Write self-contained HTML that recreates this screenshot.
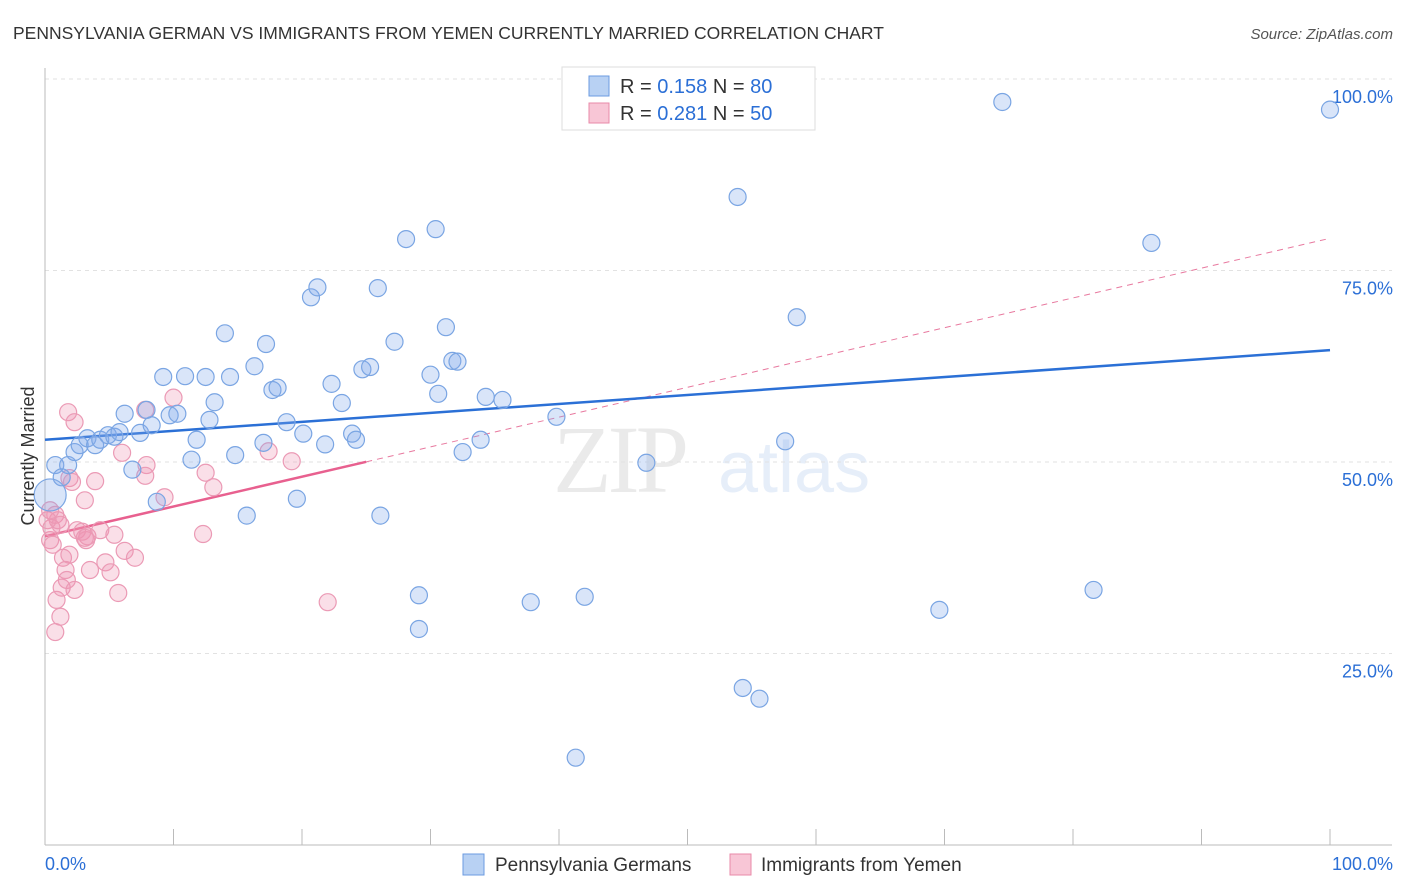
<!DOCTYPE html>
<html><head><meta charset="utf-8">
<style>
body{margin:0;background:#fff;font-family:"Liberation Sans",sans-serif;}
svg{display:block}
</style></head>
<body>
<svg id="chart" width="1406" height="892" xmlns="http://www.w3.org/2000/svg">
<text x="13" y="39" font-size="17.5" fill="#333">PENNSYLVANIA GERMAN VS IMMIGRANTS FROM YEMEN CURRENTLY MARRIED CORRELATION CHART</text>
<text x="1393" y="39" font-size="15" fill="#555" font-style="italic" text-anchor="end">Source: ZipAtlas.com</text>
<g>
<text x="553" y="492" font-size="96" font-family="Liberation Serif,serif" fill="#000" opacity="0.08" letter-spacing="-4">ZIP</text>
<text x="718" y="492" font-size="72" fill="#4a86d8" opacity="0.13">atlas</text>
</g>
<g id="grid"></g>
<g id="axes"></g>
<g id="lines"></g>
<g id="points"></g>
<g>
<rect x="562" y="67" width="253" height="63" fill="#fff" stroke="#ddd"/>
<rect x="589" y="76" width="20" height="20" fill="#b8d1f3" stroke="#6b9be0"/>
<rect x="589" y="103" width="20" height="20" fill="#f8c6d6" stroke="#e88aa8"/>
<text x="620" y="93" font-size="20" fill="#333">R = <tspan fill="#2b6fd6">0.158</tspan>   N = <tspan fill="#2b6fd6">80</tspan></text>
<text x="620" y="120" font-size="20" fill="#333">R = <tspan fill="#2b6fd6">0.281</tspan>   N = <tspan fill="#2b6fd6">50</tspan></text>
</g>
<g>
<rect x="463" y="854" width="21" height="21" fill="#b8d1f3" stroke="#6b9be0"/>
<text x="495" y="871" font-size="19" fill="#333">Pennsylvania Germans</text>
<rect x="730" y="854" width="21" height="21" fill="#f8c6d6" stroke="#e88aa8"/>
<text x="761" y="871" font-size="19" fill="#333">Immigrants from Yemen</text>
</g>
<text transform="translate(34,456) rotate(-90)" font-size="18" fill="#333" text-anchor="middle">Currently Married</text>
</svg>
<script>
const blueX=[0.8,1.8,1.3,2.3,2.7,3.3,3.9,4.3,4.9,5.4,5.8,6.2,6.8,7.4,7.9,8.3,8.7,9.2,9.7,10.3,10.9,11.4,11.8,12.5,12.8,13.2,14.0,14.4,14.8,15.7,16.3,17.0,17.2,17.7,18.1,18.8,19.6,20.1,20.7,21.2,21.8,22.3,23.1,23.9,24.2,24.7,25.3,25.9,26.1,27.2,28.1,29.1,29.1,30.0,30.4,30.6,31.2,31.7,32.1,32.5,33.9,34.3,35.6,37.8,39.8,41.3,42.0,46.8,53.9,54.3,55.6,57.6,58.5,69.6,74.5,81.6,86.1,100.0,0.4];
const blueY=[49.6,49.6,48.0,51.3,52.2,53.1,52.2,52.9,53.5,53.3,53.9,56.3,49.0,53.8,56.8,54.8,44.8,61.1,56.1,56.3,61.2,50.3,52.9,61.1,55.5,57.8,66.8,61.1,50.9,43.0,62.5,52.5,65.4,59.4,59.7,55.2,45.2,53.7,71.5,72.8,52.3,60.2,57.7,53.7,52.9,62.1,62.4,72.7,43.0,65.7,79.1,32.6,28.2,61.4,80.4,58.9,67.6,63.2,63.1,51.3,52.9,58.5,58.1,31.7,55.9,11.4,32.4,49.9,84.6,20.5,19.1,52.7,68.9,30.7,97.0,33.3,78.6,96.0,45.7];
const pinkX=[0.4,0.5,0.8,1.0,0.8,0.9,1.2,1.3,1.4,1.6,1.7,1.8,1.9,1.9,2.1,2.3,2.3,2.5,2.9,3.1,3.2,3.3,3.5,3.9,4.3,4.7,5.1,5.7,6.0,6.2,7.0,7.8,7.9,7.8,9.3,10.0,12.3,12.5,13.1,17.4,19.2,22.0,0.2,0.4,0.6,1.2,3.1,5.4];
const pinkY=[39.8,41.4,43.1,42.4,27.8,32.0,29.8,33.6,37.5,35.9,34.6,56.5,37.9,47.9,47.4,33.3,55.2,41.1,40.9,45.0,39.8,40.3,35.9,47.5,41.1,36.9,35.6,32.9,51.2,38.4,37.5,56.8,49.6,48.2,45.4,58.4,40.6,48.6,46.7,51.4,50.1,31.7,42.4,43.7,39.2,41.8,40.1,40.5];
const blueTrend=[52.9,64.6];
const pinkTrend=[40.3,79.2];
const pinkSolidEnd=25;
const yTicks=[25,50,75,100];
const xTicks=[0,10,20,30,40,50,60,70,80,90,100];
const NS="http://www.w3.org/2000/svg";
const X=v=>45+v*12.85;
const Y=v=>845-v*7.66;
function mk(tag,attrs,parent){const e=document.createElementNS(NS,tag);for(const k in attrs)e.setAttribute(k,attrs[k]);parent.appendChild(e);return e;}
const grid=document.getElementById('grid'),axes=document.getElementById('axes'),lines=document.getElementById('lines'),pts=document.getElementById('points');
yTicks.forEach(t=>{
 const l=mk('line',{x1:45,x2:1392,y1:Y(t),y2:Y(t),stroke:'#e2e2e2','stroke-dasharray':'4,4'},grid);
 
 
 const tx=mk('text',{x:1393,y:Y(t)+24,'font-size':18,fill:'#2b6fd6','text-anchor':'end'},axes);
 tx.textContent=t.toFixed(1)+'%';
 
 
});
const gtop=mk('line',{x1:45,x2:1392,y1:79,y2:79,stroke:'#e2e2e2','stroke-dasharray':'4,4'},grid);


const ya=mk('line',{x1:45,x2:45,y1:68,y2:845,stroke:'#bbb'},axes);


const xa=mk('line',{x1:45,x2:1392,y1:845,y2:845,stroke:'#bbb'},axes);


xTicks.forEach(t=>{
 const l=mk('line',{x1:X(t),x2:X(t),y1:829,y2:845,stroke:'#bbb'},axes);
 
 
});
const xl0=mk('text',{x:45,y:870,'font-size':18,fill:'#2b6fd6'},axes);xl0.textContent='0.0%';


const xl1=mk('text',{x:1393,y:870,'font-size':18,fill:'#2b6fd6','text-anchor':'end'},axes);xl1.textContent='100.0%';


pinkX.forEach((x,i)=>{
 const c=mk('circle',{cx:X(x),cy:Y(pinkY[i]),r:8.5,fill:'rgba(240,150,180,0.3)',stroke:'#eb9ab5','stroke-width':1.2},pts);
 
 
});
blueX.forEach((x,i)=>{
 const big=i===blueX.length-1;
 const c=mk('circle',{cx:X(x),cy:Y(blueY[i]),r:big?16:8.5,fill:'rgba(130,170,235,0.3)',stroke:'#7aa5e3','stroke-width':1.2},pts);
 
 
});
const pAt=v=>pinkTrend[0]+(pinkTrend[1]-pinkTrend[0])*v/100;
const pd=mk('line',{x1:X(pinkSolidEnd),y1:Y(pAt(pinkSolidEnd)),x2:X(100),y2:Y(pinkTrend[1]),stroke:'#e8799f','stroke-width':1,'stroke-dasharray':'6,5'},lines);


const ps=mk('line',{x1:X(0),y1:Y(pinkTrend[0]),x2:X(pinkSolidEnd),y2:Y(pAt(pinkSolidEnd)),stroke:'#e8608f','stroke-width':2.5},lines);


const bl=mk('line',{x1:X(0),y1:Y(blueTrend[0]),x2:X(100),y2:Y(blueTrend[1]),stroke:'#2b70d6','stroke-width':2.5},lines);


</script>
</body></html>
